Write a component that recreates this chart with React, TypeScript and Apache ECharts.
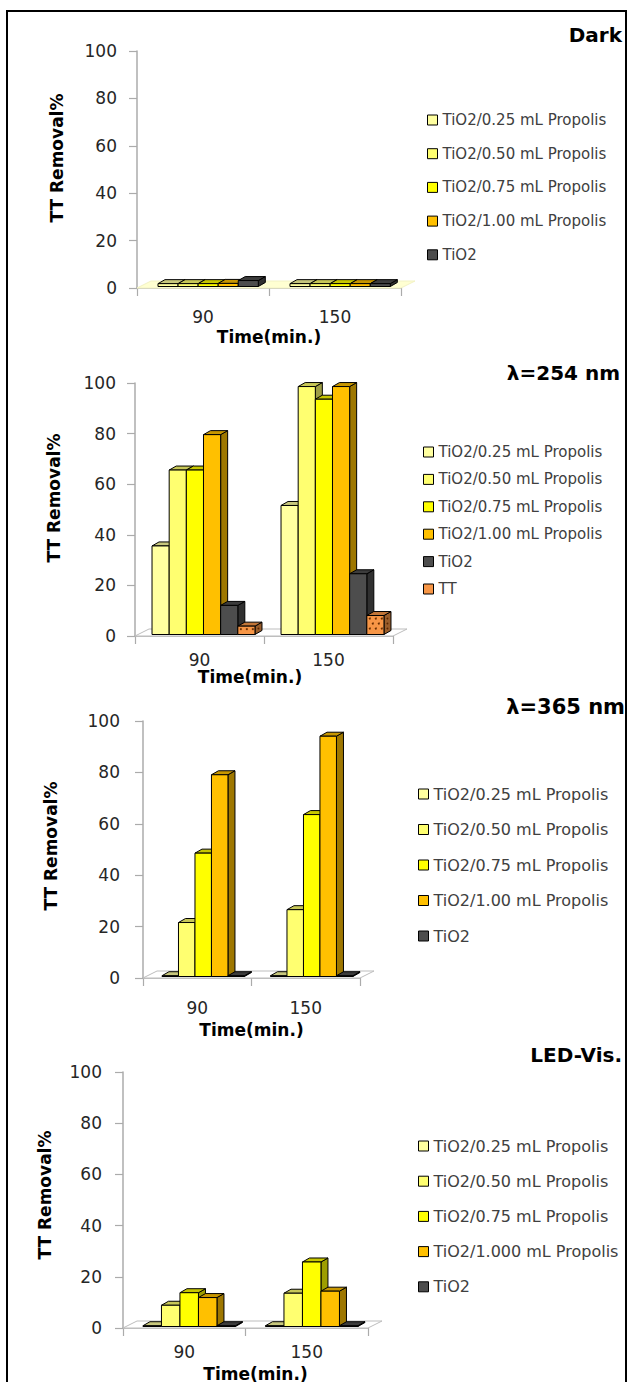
import React, { useEffect, useRef } from "react";
import * as echarts from "echarts";

// ---------- data ----------
const categories = ["90", "150"];

const legendNames = [
  "TiO2/0.25 mL Propolis",
  "TiO2/0.50 mL Propolis",
  "TiO2/0.75 mL Propolis",
  "TiO2/1.00 mL Propolis",
  "TiO2",
];
const legendNames254 = [
  "TiO2/0.25 mL Propolis",
  "TiO2/0.50 mL Propolis",
  "TiO2/0.75 mL Propolis",
  "TiO2/1.00 mL Propolis",
  "TiO2",
  "TT",
];
const legendNamesLed = [
  "TiO2/0.25 mL Propolis",
  "TiO2/0.50 mL Propolis",
  "TiO2/0.75 mL Propolis",
  "TiO2/1.000 mL Propolis",
  "TiO2",
];

// values per series: [90 min, 150 min]
const darkValues = [
  [1.2, 1.2],
  [1.2, 1.2],
  [1.2, 1.2],
  [1.3, 1.2],
  [2.5, 1.2],
];
const uv254Values = [
  [35, 51],
  [65, 98],
  [65, 93],
  [79, 98],
  [11.5, 24],
  [3.3, 7.5],
];
const uv365Values = [
  [0.3, 0.3],
  [21, 26],
  [48, 63],
  [78.5, 93.5],
  [0.3, 0.3],
];
const ledValues = [
  [0.3, 0.3],
  [8.3, 13],
  [13.2, 25.2],
  [11.3, 13.8],
  [0.3, 0.3],
];

const panelTitles = ["Dark", "λ=254 nm", "λ=365 nm", "LED-Vis."];
const yMin = 0;
const yMax = 100;
const yStep = 20;

const seriesColors = ["#FFFFA0", "#FFFF70", "#FFFF00", "#FFC000", "#4D4D4D", "#F79646"];

// ---------- layout / style ----------
const FONT = "DejaVu Sans";
const DX = 7;
const DY = 4;
const FX = 14;
const FY = 7;
const LIFT = 1.5;

const layouts = [
  {
    grid: { left: 137, top: 51, width: 264, height: 237 },
    off: 0.159, barW: 0.152,
    title: { right: 7, top: 25, size: 20 },
    legend: { left: 427, top: 111.5, size: 15, lh: 17, gap: 16.7 },
    xLabelMargin: 20, xNameGap: 40, xNamePad: [0, 0, 0, 0],
    yLabelMargin: 20, yNameGap: 72, yNamePad: [0, 0, 0, 23],
    floorFill: "#FFFFD2", floorStroke: "#F2F2C4",
  },
  {
    grid: { left: 135, top: 383, width: 258, height: 253 },
    off: 0.132, barW: 0.133,
    title: { right: 9, top: 363, size: 20 },
    legend: { left: 423, top: 443.5, size: 15, lh: 17, gap: 10.4 },
    xLabelMargin: 15, xNameGap: 29, xNamePad: [0, 28, 0, 0],
    yLabelMargin: 19, yNameGap: 73, yNamePad: [0, 0, 0, 23],
    floorFill: "#FFFFFF", floorStroke: "#BDBDBD",
  },
  {
    grid: { left: 143, top: 721, width: 217, height: 257 },
    off: 0.175, barW: 0.152,
    title: { right: 4, top: 696, size: 21 },
    legend: { left: 418, top: 785, size: 16, lh: 18, gap: 17.5 },
    xLabelMargin: 21, xNameGap: 43, xNamePad: [0, 0, 0, 0],
    yLabelMargin: 23, yNameGap: 84, yNamePad: [0, 0, 0, 7],
    floorFill: "#FFFFFF", floorStroke: "#BDBDBD",
  },
  {
    grid: { left: 123, top: 1072, width: 245, height: 256 },
    off: 0.163, barW: 0.151,
    title: { right: 7, top: 1045, size: 20 },
    legend: { left: 418, top: 1137, size: 16, lh: 18, gap: 17.2 },
    xLabelMargin: 15, xNameGap: 37, xNamePad: [0, 0, 0, 20],
    yLabelMargin: 21, yNameGap: 70, yNamePad: [0, 0, 0, 10],
    floorFill: "#FFFFFF", floorStroke: "#BDBDBD",
  },
];

function shade(hex: string, f: number): string {
  const n = parseInt(hex.slice(1), 16);
  const r = Math.round(((n >> 16) & 255) * f);
  const g = Math.round(((n >> 8) & 255) * f);
  const b = Math.round((n & 255) * f);
  return "#" + [r, g, b].map((c) => c.toString(16).padStart(2, "0")).join("");
}

function makeBarRender(off: number, barW: number, idx: number, color: string, dotted: boolean) {
  const topC = shade(color, 0.78);
  const sideC = shade(color, 0.62);
  return (params: any, api: any) => {
    const cat = api.value(0);
    const v = api.value(1);
    const base = api.coord([cat, 0]);
    const pt = api.coord([cat, v]);
    const band = api.size([1, 0])[0];
    const w = band * barW;
    const x0 = base[0] - band / 2 + band * off + idx * w;
    const yb = base[1] - LIFT;
    const yt = Math.min(pt[1] - LIFT, yb - 0.5);
    const st = { stroke: "#000", lineWidth: 1 };
    const children: any[] = [
      {
        type: "polygon",
        shape: { points: [[x0 + w, yb], [x0 + w, yt], [x0 + w + DX, yt - DY], [x0 + w + DX, yb - DY]] },
        style: { fill: sideC, ...st },
      },
      {
        type: "polygon",
        shape: { points: [[x0, yt], [x0 + DX, yt - DY], [x0 + w + DX, yt - DY], [x0 + w, yt]] },
        style: { fill: topC, ...st },
      },
      {
        type: "rect",
        shape: { x: x0, y: yt, width: w, height: yb - yt },
        style: { fill: color, ...st },
      },
    ];
    if (dotted) {
      let row = 0;
      for (let yy = yt + 3; yy < yb - 1.5; yy += 5, row++) {
        for (let xx = x0 + 3 + (row % 2) * 3; xx < x0 + w - 1.5; xx += 6) {
          children.push({ type: "circle", shape: { cx: xx, cy: yy, r: 1 }, style: { fill: "#6B2E00" } });
        }
      }
      for (let yy = yb - 4; yy > yt + 1; yy -= 5) {
        children.push({ type: "circle", shape: { cx: x0 + w + 3.5, cy: yy - 2, r: 0.9 }, style: { fill: "#5A2600" } });
      }
    }
    return { type: "group", children };
  };
}

function makeFloorRender(fill: string, stroke: string) {
  return (params: any, api: any) => {
    const cs = params.coordSys;
    const y0 = api.coord([0, 0])[1];
    const x1 = cs.x;
    const x2 = cs.x + cs.width;
    return {
      type: "polygon",
      shape: { points: [[x1, y0], [x1 + FX, y0 - FY], [x2 + FX, y0 - FY], [x2, y0]] },
      style: { fill, stroke, lineWidth: 1 },
    };
  };
}

const panelValues = [darkValues, uv254Values, uv365Values, ledValues];
const panelNames = [legendNames, legendNames254, legendNames, legendNamesLed];

function buildOption() {
  const grid: any[] = [];
  const xAxis: any[] = [];
  const yAxis: any[] = [];
  const title: any[] = [];
  const legend: any[] = [];
  const series: any[] = [];
  const axisColor = "#ABABAB";

  layouts.forEach((L, p) => {
    grid.push({ ...L.grid, containLabel: false, outerBoundsMode: "none" });
    xAxis.push({
      type: "category",
      gridIndex: p,
      data: categories,
      axisLine: { show: true, lineStyle: { color: axisColor, width: 1.5 } },
      axisTick: { show: true, length: 8, lineStyle: { color: axisColor, width: 1.2 } },
      axisLabel: { fontFamily: FONT, fontSize: 17, color: "#262626", margin: L.xLabelMargin },
      splitLine: { show: false },
      name: "Time(min.)",
      nameLocation: "middle",
      nameGap: L.xNameGap,
      nameTextStyle: {
        fontFamily: FONT, fontSize: 17, fontWeight: "bold", color: "#000", padding: L.xNamePad,
      },
    });
    yAxis.push({
      type: "value",
      gridIndex: p,
      min: yMin,
      max: yMax,
      interval: yStep,
      axisLine: { show: true, lineStyle: { color: axisColor, width: 1.5 } },
      axisTick: { show: true, length: 8, lineStyle: { color: axisColor, width: 1.2 } },
      axisLabel: { fontFamily: FONT, fontSize: 17, color: "#262626", margin: L.yLabelMargin },
      splitLine: { show: false },
      name: "TT Removal%",
      nameLocation: "middle",
      nameRotate: 90,
      nameGap: L.yNameGap,
      nameTextStyle: {
        fontFamily: FONT, fontSize: 17, fontWeight: "bold", color: "#000", padding: L.yNamePad,
      },
    });
    title.push({
      text: panelTitles[p],
      right: L.title.right,
      top: L.title.top,
      padding: 0,
      textStyle: { fontFamily: FONT, fontSize: L.title.size, fontWeight: "bold", color: "#000" },
    });
    legend.push({
      orient: "vertical",
      left: L.legend.left,
      top: L.legend.top,
      padding: 0,
      itemWidth: 10,
      itemHeight: 10,
      itemGap: L.legend.gap,
      icon: "rect",
      selectedMode: false,
      data: panelNames[p],
      itemStyle: { borderColor: "#000", borderWidth: 1 },
      textStyle: { fontFamily: FONT, fontSize: L.legend.size, lineHeight: L.legend.lh, color: "#404040" },
    });
    series.push({
      type: "custom",
      name: "floor-" + p,
      xAxisIndex: p,
      yAxisIndex: p,
      z: 1,
      silent: true,
      data: [[0, 0]],
      renderItem: makeFloorRender(L.floorFill, L.floorStroke),
    });
    const vals = panelValues[p];
    const names = panelNames[p];
    vals.forEach((sv, i) => {
      const color = seriesColors[i];
      series.push({
        type: "custom",
        name: names[i],
        xAxisIndex: p,
        yAxisIndex: p,
        z: 2,
        itemStyle: { color, borderColor: "#000", borderWidth: 1 },
        data: sv.map((v, c) => [c, v]),
        renderItem: makeBarRender(L.off, L.barW, i, color, names[i] === "TT"),
      });
    });
  });

  return {
    animation: false,
    backgroundColor: "#FFFFFF",
    textStyle: { fontFamily: FONT },
    grid,
    xAxis,
    yAxis,
    title,
    legend,
    series,
    graphic: [
      {
        type: "rect",
        silent: true,
        z: 100,
        shape: { x: 7, y: 11, width: 619, height: 1400 },
        style: { fill: "none", stroke: "#000", lineWidth: 2 },
      },
    ],
  };
}

export default function App() {
  const ref = useRef<HTMLDivElement | null>(null);
  useEffect(() => {
    if (!ref.current) return;
    const chart = echarts.init(ref.current, null, { renderer: "svg" });
    chart.setOption(buildOption() as any);
    return () => chart.dispose();
  }, []);
  return (
    <div
      ref={ref}
      style={{ position: "absolute", left: 0, top: 0, width: 629, height: 1382, background: "#fff" }}
    />
  );
}
